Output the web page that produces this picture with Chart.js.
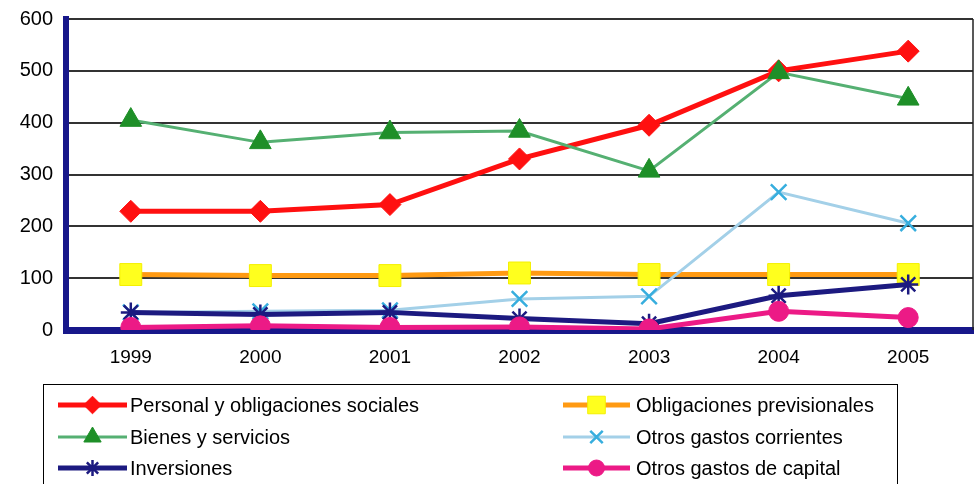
<!DOCTYPE html>
<html>
<head>
<meta charset="utf-8">
<script src="https://cdn.jsdelivr.net/npm/chart.js@4"></script>
<style>
html,body{margin:0;padding:0;background:#fff;}
#wrap{width:976px;height:484px;position:relative;}
</style>
</head>
<body>
<div id="wrap"><canvas id="c" width="976" height="484"></canvas></div>
<script>
const years = ['1999','2000','2001','2002','2003','2004','2005'];
const yTicks = [0,100,200,300,400,500,600];

const personal      = [229, 229, 242, 330, 395, 500, 538];
const previsionales = [107, 105, 105, 110, 107, 107, 107];
const bienes        = [405, 362, 381, 384, 307, 497, 446];
const otrosCorr     = [34, 36, 38, 60, 65, 266, 206];
const inversiones   = [34, 30, 34, 22, 12, 66, 88];
const otrosCapital  = [5, 8, 5, 6, 2, 36, 24];

const names = ['Personal y obligaciones sociales','Obligaciones previsionales','Bienes y servicios','Otros gastos corrientes','Inversiones','Otros gastos de capital'];

const datasets = [
  {label:names[0], data:personal, borderColor:'#ff1010', borderWidth:5, pointStyle:'rectRot', pointRadius:11, pointBackgroundColor:'#ff1010', pointBorderColor:'#ff1010', pointBorderWidth:1},
  {label:names[1], data:previsionales, borderColor:'#ff9a12', borderWidth:5, pointStyle:'rect', pointRadius:15.5, pointBackgroundColor:'#ffff1e', pointBorderColor:'#f4f000', pointBorderWidth:1},
  {label:names[2], data:bienes, borderColor:'#55b072', borderWidth:3, pointStyle:'triangle', pointRadius:12.5, pointBackgroundColor:'#1e8f28', pointBorderColor:'#1e8f28', pointBorderWidth:1},
  {label:names[3], data:otrosCorr, borderColor:'#a3d0e8', borderWidth:3, pointStyle:'crossRot', pointRadius:11, pointBackgroundColor:'#37aede', pointBorderColor:'#37aede', pointBorderWidth:2.5},
  {label:names[4], data:inversiones, borderColor:'#1c1a80', borderWidth:5, pointStyle:'star', pointRadius:10, pointBackgroundColor:'#1c1a80', pointBorderColor:'#1c1a80', pointBorderWidth:2.5},
  {label:names[5], data:otrosCapital, borderColor:'#ec1a86', borderWidth:5, pointStyle:'circle', pointRadius:10, pointBackgroundColor:'#ec1a86', pointBorderColor:'#ec1a86', pointBorderWidth:1}
];
datasets.forEach((d,i)=>{ d.order = datasets.length - i; d.tension = 0; d.fill = false; d.pointHoverRadius = d.pointRadius; });

const frameAndLegend = {
  id:'frameAndLegend',
  afterDraw(chart){
    const ctx = chart.ctx, a = chart.chartArea;
    ctx.save();
    ctx.strokeStyle = '#222'; ctx.lineWidth = 1.5;
    ctx.beginPath(); ctx.moveTo(a.right, a.top); ctx.lineTo(a.right, a.bottom); ctx.stroke();
    ctx.strokeStyle = '#000'; ctx.lineWidth = 1;
    ctx.strokeRect(43.5, 384.5, 854, 130);
    const rows = [405, 437, 468];
    const cols = [{x0:58, x1:127, tx:130}, {x0:563, x1:630, tx:636}];
    chart.data.datasets.forEach((d,i)=>{
      const col = cols[i % 2], y = rows[Math.floor(i/2)];
      ctx.strokeStyle = d.borderColor; ctx.lineWidth = d.borderWidth;
      ctx.beginPath(); ctx.moveTo(col.x0, y); ctx.lineTo(col.x1, y); ctx.stroke();
      ctx.fillStyle = d.pointBackgroundColor; ctx.strokeStyle = d.pointBorderColor; ctx.lineWidth = d.pointBorderWidth;
      Chart.helpers.drawPoint(ctx, {pointStyle:d.pointStyle, rotation:0, radius:d.pointRadius*0.8, borderWidth:d.pointBorderWidth}, (col.x0+col.x1)/2, y);
      ctx.fillStyle = '#000';
      ctx.font = '20px "Liberation Sans", Arial, sans-serif';
      ctx.textBaseline = 'middle'; ctx.textAlign = 'left';
      ctx.fillText(d.label, col.tx, y + 1);
    });
    ctx.restore();
  }
};

new Chart(document.getElementById('c'), {
  type:'line',
  data:{labels:years, datasets:datasets},
  options:{
    responsive:false,
    animation:false,
    layout:{autoPadding:false, padding:{top:19, right:3, left:0, bottom:0}},
    plugins:{legend:{display:false}, tooltip:{enabled:false}},
    scales:{
      x:{
        offset:true,
        grid:{display:false, drawTicks:false},
        border:{display:true, color:'#17178a', width:7},
        ticks:{color:'#000', font:{family:'"Liberation Sans", Arial, sans-serif', size:19}, padding:16, maxRotation:0},
        afterFit(s){ s.height = 154; s.paddingLeft = 0; s.paddingRight = 0; }
      },
      y:{
        min:0, max:600,
        afterBuildTicks(s){ s.ticks = yTicks.map(v=>({value:v})); },
        grid:{color:'#333', lineWidth:2, drawTicks:false},
        border:{display:true, color:'#17178a', width:6},
        ticks:{color:'#000', font:{family:'"Liberation Sans", Arial, sans-serif', size:20}, padding:13},
        afterFit(s){ s.width = 66; s.paddingTop = 0; s.paddingBottom = 0; }
      }
    }
  },
  plugins:[frameAndLegend]
});
</script>
</body>
</html>
